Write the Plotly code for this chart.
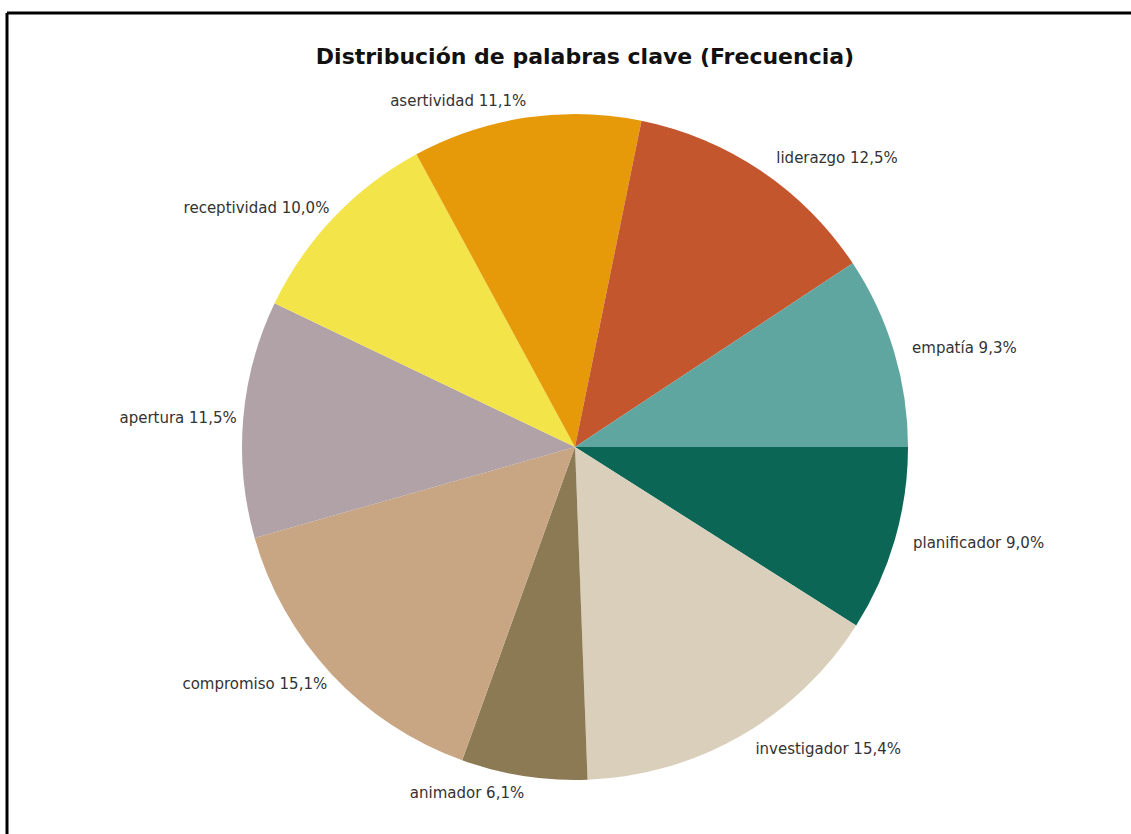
import plotly.graph_objects as go

# Keyword frequency shares (percent), listed clockwise from 3 o'clock
labels = ["planificador", "investigador", "animador", "compromiso", "apertura",
          "receptividad", "asertividad", "liderazgo", "empatía"]
values = [9.0, 15.4, 6.1, 15.1, 11.5, 10.0, 11.1, 12.5, 9.3]
colors = ["#0B6655", "#D9CFBA", "#8C7A54", "#C8A583", "#B0A2A6",
          "#F3E44A", "#E69A0A", "#C4562E", "#5FA6A0"]

W, H = 1131, 834
cx, cy = 575, 447
r_pie = 333            # radius of the drawn pie
cx_lab, r_lab = 581, 341   # ring the outside labels hang from

# Spanish-style decimal comma
pct_text = [f"{v:.1f}%".replace(".", ",") for v in values]


def domain(x0, r):
    return dict(x=[(x0 - r) / W, (x0 + r) / W],
                y=[(H - cy - r) / H, (H - cy + r) / H])


common = dict(labels=labels, values=values, sort=False, direction="clockwise",
              rotation=90, showlegend=False, automargin=False)

fig = go.Figure()

# Coloured slices
fig.add_trace(go.Pie(
    **common,
    marker=dict(colors=colors, line=dict(width=0)),
    textinfo="none",
    hoverinfo="label+percent",
    domain=domain(cx, r_pie),
))

# Transparent ring carrying the outside labels
fig.add_trace(go.Pie(
    **common,
    text=pct_text,
    texttemplate="%{label} %{text}",
    textposition="outside",
    textfont=dict(family="DejaVu Sans", size=15, color="#333333"),
    marker=dict(colors=["rgba(0,0,0,0)"] * len(values), line=dict(width=0)),
    hoverinfo="skip",
    domain=domain(cx_lab, r_lab),
))

fig.update_layout(
    width=W, height=H,
    margin=dict(l=0, r=0, t=0, b=0),
    paper_bgcolor="white",
    plot_bgcolor="white",
    title=dict(text="<b>Distribución de palabras clave (Frecuencia)</b>",
               x=585 / W, xanchor="center", y=1 - 56 / H, yanchor="middle",
               font=dict(family="DejaVu Sans", size=22, color="#111111")),
    shapes=[
        dict(type="line", xref="paper", yref="paper",
             x0=7 / W, x1=1.0, y0=1 - 13 / H, y1=1 - 13 / H,
             line=dict(color="black", width=3)),
        dict(type="line", xref="paper", yref="paper",
             x0=7 / W, x1=7 / W, y0=0, y1=1 - 13 / H,
             line=dict(color="black", width=3)),
    ],
)

fig.write_html("out.html")
